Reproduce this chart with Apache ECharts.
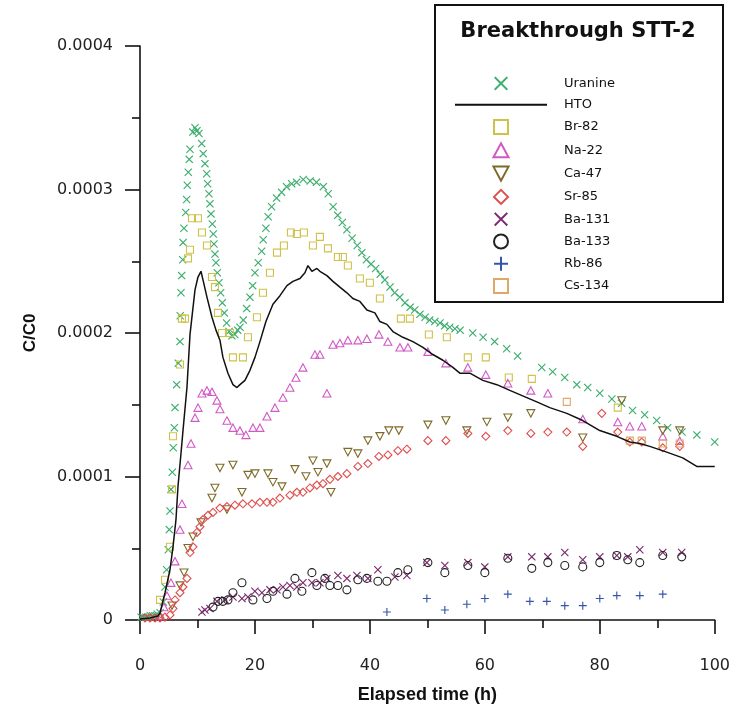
<!DOCTYPE html>
<html>
<head>
<meta charset="utf-8">
<script src="https://cdn.jsdelivr.net/npm/echarts@6/dist/echarts.min.js"></script>
<style>
  html, body { margin: 0; padding: 0; background: #fff; }
  #chart { width: 733px; height: 710px; }
</style>
</head>
<body>
<div id="chart"></div>
<script>
// Breakthrough curves, test STT-2: C/C0 against elapsed time (h)
const xTicks = [0, 20, 40, 60, 80, 100];
const yTicks = [0, 0.0001, 0.0002, 0.0003, 0.0004];
const seriesNames = ['Uranine', 'HTO', 'Br-82', 'Na-22', 'Ca-47', 'Sr-85', 'Ba-131', 'Ba-133', 'Rb-86', 'Cs-134'];

const uranine = [
  [0.2,0.02e-4],[0.6,0.02e-4],[1.0,0.02e-4],[1.4,0.02e-4],[1.8,0.03e-4],[2.2,0.03e-4],[2.6,0.03e-4],[3.0,0.04e-4],
  [3.5,0.05e-4],[4.05,0.125e-4],[4.35,0.23e-4],[4.64,0.35e-4],[4.92,0.49e-4],[5.1,0.63e-4],[5.22,0.76e-4],[5.39,0.91e-4],
  [5.62,1.03e-4],[5.79,1.20e-4],[5.97,1.34e-4],[6.09,1.48e-4],[6.38,1.64e-4],[6.66,1.79e-4],[6.96,1.94e-4],[7.0,2.12e-4],
  [7.13,2.28e-4],[7.25,2.40e-4],[7.43,2.51e-4],[7.5,2.63e-4],[7.65,2.73e-4],[7.95,2.84e-4],[8.12,2.93e-4],[8.23,3.03e-4],
  [8.4,3.12e-4],[8.57,3.21e-4],[8.7,3.28e-4],[9.2,3.40e-4],[9.57,3.43e-4],[9.91,3.41e-4],[10.26,3.39e-4],[10.73,3.32e-4],
  [11.0,3.25e-4],[11.3,3.18e-4],[11.6,3.11e-4],[11.77,3.04e-4],[12.0,2.97e-4],[12.17,2.90e-4],[12.35,2.83e-4],[12.58,2.76e-4],
  [12.75,2.69e-4],[12.87,2.62e-4],[13.04,2.55e-4],[13.22,2.49e-4],[13.45,2.42e-4],[13.74,2.35e-4],[14.03,2.28e-4],[14.32,2.21e-4],
  [14.67,2.14e-4],[15.07,2.07e-4],[15.5,2.01e-4],[16.0,1.98e-4],[16.5,1.99e-4],[17.0,2.02e-4],[17.4,2.04e-4],[17.97,2.09e-4],
  [18.56,2.17e-4],[19.13,2.25e-4],[19.6,2.33e-4],[20.0,2.42e-4],[20.57,2.49e-4],[21.17,2.57e-4],[21.44,2.65e-4],[21.9,2.73e-4],
  [22.3,2.81e-4],[22.9,2.88e-4],[23.77,2.94e-4],[24.64,2.98e-4],[25.5,3.02e-4],[26.4,3.04e-4],[27.25,3.05e-4],[28.4,3.07e-4],
  [29.6,3.06e-4],[30.7,3.05e-4],[31.9,3.02e-4],[32.75,2.97e-4],[33.6,2.88e-4],[34.4,2.82e-4],[35.2,2.77e-4],[36.0,2.72e-4],
  [36.9,2.66e-4],[37.8,2.61e-4],[38.6,2.56e-4],[39.4,2.51e-4],[40.2,2.48e-4],[41.0,2.45e-4],[41.8,2.41e-4],[42.6,2.37e-4],
  [43.5,2.32e-4],[44.3,2.28e-4],[45.2,2.25e-4],[46.1,2.21e-4],[47.0,2.18e-4],[47.8,2.16e-4],[48.7,2.13e-4],[49.6,2.11e-4],
  [50.4,2.09e-4],[51.3,2.08e-4],[52.2,2.07e-4],[53.0,2.05e-4],[53.9,2.04e-4],[54.8,2.03e-4],[55.7,2.02e-4],
  [57.9,2.00e-4],[59.7,1.97e-4],[61.7,1.94e-4],[63.8,1.89e-4],[65.7,1.84e-4],[69.9,1.76e-4],[71.8,1.73e-4],[73.9,1.69e-4],
  [76.0,1.64e-4],[77.9,1.62e-4],[80.0,1.58e-4],[82.1,1.54e-4],[83.8,1.51e-4],[85.7,1.46e-4],[87.8,1.43e-4],[89.9,1.39e-4],
  [91.8,1.34e-4],[94.3,1.31e-4],[96.9,1.29e-4],[100,1.24e-4]
];

const hto = [
  [0,0.007e-4],[1.74,0.014e-4],[3.13,0.028e-4],[3.48,0.049e-4],[4.35,0.19e-4],[5.22,0.35e-4],[5.74,0.51e-4],[6.26,0.70e-4],
  [6.61,0.93e-4],[7.13,1.16e-4],[7.48,1.32e-4],[8.17,1.62e-4],[8.7,1.99e-4],[9.57,2.30e-4],[10.09,2.39e-4],[10.61,2.43e-4],
  [10.96,2.37e-4],[11.65,2.25e-4],[12.52,2.11e-4],[13.22,2.02e-4],[13.91,1.95e-4],[14.43,1.83e-4],[15.3,1.72e-4],[16.17,1.64e-4],
  [16.87,1.62e-4],[17.39,1.64e-4],[18.26,1.67e-4],[19.13,1.74e-4],[20.0,1.83e-4],[20.87,1.94e-4],[21.91,2.08e-4],[23.13,2.20e-4],
  [24.35,2.26e-4],[25.57,2.33e-4],[26.61,2.36e-4],[27.83,2.38e-4],[28.7,2.42e-4],[29.22,2.47e-4],[29.91,2.43e-4],[30.78,2.45e-4],
  [31.3,2.43e-4],[32.52,2.40e-4],[33.57,2.36e-4],[34.78,2.32e-4],[36.0,2.28e-4],[37.04,2.24e-4],[38.26,2.22e-4],[39.48,2.16e-4],
  [40.87,2.14e-4],[41.74,2.08e-4],[42.96,2.06e-4],[44.0,2.01e-4],[45.74,1.97e-4],[47.48,1.94e-4],[49.22,1.90e-4],[50.96,1.85e-4],
  [52.7,1.81e-4],[54.43,1.76e-4],[55.65,1.72e-4],[57.39,1.72e-4],[59.65,1.67e-4],[62.09,1.64e-4],[64.35,1.60e-4],[67.3,1.55e-4],
  [69.04,1.52e-4],[71.3,1.48e-4],[74.26,1.44e-4],[77.04,1.39e-4],[80.0,1.32e-4],[82.96,1.28e-4],[85.22,1.24e-4],[86.96,1.23e-4],
  [88.7,1.21e-4],[91.65,1.17e-4],[94.43,1.13e-4],[96.87,1.07e-4],[100,1.07e-4]
];

const br82 = [
  [3.48,0.14e-4],[4.35,0.28e-4],[5.22,0.51e-4],[5.57,0.91e-4],[5.74,1.28e-4],[6.96,1.78e-4],[7.3,2.10e-4],[7.83,2.10e-4],
  [8.35,2.52e-4],[8.7,2.58e-4],[9.04,2.80e-4],[10.09,2.80e-4],[10.78,2.70e-4],[11.65,2.61e-4],[12.52,2.39e-4],[13.04,2.32e-4],
  [13.57,2.14e-4],[14.26,2.00e-4],[15.65,2.00e-4],[16.17,1.83e-4],[17.91,1.83e-4],[18.78,1.97e-4],[20.35,2.11e-4],[21.39,2.28e-4],
  [22.61,2.42e-4],[23.83,2.56e-4],[25.04,2.61e-4],[26.26,2.70e-4],[27.3,2.69e-4],[28.52,2.70e-4],[30.09,2.61e-4],[31.3,2.67e-4],
  [32.7,2.59e-4],[34.43,2.53e-4],[35.3,2.53e-4],[36.17,2.47e-4],[38.26,2.38e-4],[40.0,2.35e-4],[41.74,2.24e-4],[45.39,2.10e-4],
  [46.96,2.10e-4],[50.26,1.99e-4],[53.39,1.97e-4],[57.04,1.83e-4],[60.17,1.83e-4],[64.17,1.69e-4],[68.17,1.68e-4],[83.13,1.48e-4]
];

const na22 = [
  [3.48,0.03e-4],[4.17,0.09e-4],[4.7,0.17e-4],[5.39,0.26e-4],[6.09,0.41e-4],[6.96,0.63e-4],[7.3,0.81e-4],[8.35,1.08e-4],
  [8.87,1.23e-4],[9.57,1.41e-4],[10.09,1.48e-4],[10.78,1.58e-4],[11.65,1.60e-4],[12.52,1.59e-4],[13.39,1.53e-4],[13.91,1.47e-4],
  [15.13,1.39e-4],[16.17,1.34e-4],[17.39,1.32e-4],[18.43,1.29e-4],[19.65,1.34e-4],[20.87,1.34e-4],[22.09,1.42e-4],[23.48,1.48e-4],
  [24.87,1.55e-4],[26.09,1.62e-4],[27.13,1.69e-4],[28.35,1.76e-4],[30.43,1.85e-4],[31.3,1.85e-4],[32.52,1.58e-4],[33.57,1.92e-4],
  [34.78,1.93e-4],[36.17,1.95e-4],[37.91,1.95e-4],[39.48,1.96e-4],[41.57,1.99e-4],[43.13,1.94e-4],[45.22,1.90e-4],[46.61,1.90e-4],
  [50.09,1.87e-4],[53.22,1.79e-4],[57.04,1.76e-4],[60.17,1.71e-4],[64.0,1.65e-4],[68.0,1.60e-4],[70.96,1.58e-4],[77.04,1.40e-4],
  [83.13,1.38e-4],[85.22,1.35e-4],[87.3,1.35e-4],[90.96,1.28e-4],[93.91,1.25e-4]
];

const ca47 = [
  [5.57,0.10e-4],[6.96,0.24e-4],[7.65,0.33e-4],[8.35,0.50e-4],[9.22,0.58e-4],[10.61,0.68e-4],[12.52,0.85e-4],[13.04,0.92e-4],
  [13.91,1.06e-4],[15.13,0.77e-4],[16.17,1.08e-4],[17.74,0.89e-4],[18.78,1.01e-4],[20.0,1.02e-4],[22.26,1.02e-4],[23.13,0.96e-4],
  [24.7,0.93e-4],[26.96,1.05e-4],[28.87,1.00e-4],[30.09,1.11e-4],[30.96,1.03e-4],[32.52,1.09e-4],[33.22,0.89e-4],[36.17,1.17e-4],
  [37.91,1.16e-4],[39.65,1.25e-4],[41.74,1.28e-4],[43.3,1.32e-4],[45.04,1.32e-4],[50.09,1.36e-4],[53.22,1.39e-4],[56.87,1.32e-4],
  [60.35,1.38e-4],[64.0,1.41e-4],[68.0,1.44e-4],[77.04,1.27e-4],[83.83,1.53e-4],[90.96,1.32e-4],[93.91,1.32e-4]
];

const sr85 = [
  [0.87,0.014e-4],[1.74,0.014e-4],[2.61,0.014e-4],[3.48,0.014e-4],[4.35,0.02e-4],[5.22,0.035e-4],[5.74,0.08e-4],[6.09,0.14e-4],
  [6.96,0.19e-4],[7.48,0.23e-4],[8.17,0.29e-4],[8.7,0.47e-4],[9.22,0.51e-4],[9.91,0.61e-4],[10.43,0.65e-4],[10.96,0.70e-4],
  [11.83,0.73e-4],[12.7,0.75e-4],[13.91,0.78e-4],[15.13,0.79e-4],[16.52,0.80e-4],[17.91,0.81e-4],[19.48,0.81e-4],[20.87,0.82e-4],
  [22.09,0.82e-4],[23.13,0.82e-4],[24.35,0.85e-4],[26.09,0.87e-4],[27.3,0.89e-4],[28.35,0.89e-4],[29.57,0.92e-4],[30.78,0.94e-4],
  [31.83,0.95e-4],[33.04,0.98e-4],[34.43,1.00e-4],[36.0,1.02e-4],[37.91,1.07e-4],[39.65,1.09e-4],[41.57,1.14e-4],[43.13,1.15e-4],
  [44.87,1.18e-4],[46.43,1.19e-4],[50.09,1.25e-4],[53.22,1.25e-4],[57.04,1.30e-4],[60.17,1.28e-4],[64.0,1.32e-4],[68.0,1.30e-4],
  [70.96,1.31e-4],[74.26,1.31e-4],[77.04,1.21e-4],[80.35,1.44e-4],[83.13,1.31e-4],[85.22,1.24e-4],[87.3,1.24e-4],[90.96,1.20e-4],
  [93.91,1.21e-4]
];

const ba131 = [
  [10.78,0.056e-4],[11.3,0.07e-4],[12.17,0.08e-4],[13.39,0.13e-4],[14.78,0.14e-4],[16.17,0.16e-4],[17.74,0.15e-4],[18.78,0.16e-4],
  [20.0,0.20e-4],[21.22,0.19e-4],[22.61,0.21e-4],[23.83,0.21e-4],[24.87,0.23e-4],[26.09,0.24e-4],[27.3,0.23e-4],[28.35,0.26e-4],
  [29.91,0.26e-4],[31.3,0.26e-4],[32.52,0.29e-4],[34.43,0.31e-4],[36.0,0.29e-4],[37.74,0.31e-4],[39.65,0.29e-4],[41.39,0.35e-4],
  [44.35,0.30e-4],[46.43,0.31e-4],[49.91,0.40e-4],[53.04,0.38e-4],[57.04,0.40e-4],[60.0,0.37e-4],[64.0,0.44e-4],[68.17,0.44e-4],
  [70.96,0.44e-4],[73.91,0.47e-4],[77.04,0.42e-4],[80.0,0.44e-4],[82.96,0.45e-4],[84.87,0.44e-4],[86.96,0.49e-4],[90.96,0.47e-4],
  [94.26,0.47e-4]
];

const ba133 = [
  [12.7,0.09e-4],[13.57,0.13e-4],[14.43,0.13e-4],[15.3,0.14e-4],[16.17,0.19e-4],[17.74,0.26e-4],[19.65,0.14e-4],[22.09,0.15e-4],
  [23.13,0.20e-4],[25.57,0.18e-4],[26.96,0.29e-4],[28.17,0.20e-4],[29.91,0.33e-4],[30.78,0.24e-4],[32.17,0.29e-4],[33.04,0.24e-4],
  [34.43,0.24e-4],[36.0,0.21e-4],[37.91,0.28e-4],[39.48,0.29e-4],[41.39,0.27e-4],[42.96,0.27e-4],[44.87,0.33e-4],[46.61,0.35e-4],
  [50.09,0.40e-4],[53.04,0.33e-4],[57.04,0.38e-4],[60.0,0.33e-4],[64.0,0.43e-4],[68.17,0.36e-4],[70.96,0.40e-4],[73.91,0.38e-4],
  [77.04,0.37e-4],[80.0,0.40e-4],[82.96,0.45e-4],[84.87,0.42e-4],[86.96,0.40e-4],[90.96,0.45e-4],[94.26,0.44e-4]
];

const rb86 = [
  [42.96,0.056e-4],[49.91,0.15e-4],[53.04,0.07e-4],[56.87,0.11e-4],[60.0,0.15e-4],[64.0,0.18e-4],[67.83,0.13e-4],[70.78,0.13e-4],
  [73.91,0.10e-4],[77.04,0.10e-4],[80.0,0.15e-4],[82.96,0.17e-4],[86.96,0.17e-4],[90.96,0.18e-4]
];

const cs134 = [
  [74.26,1.52e-4],[85.22,1.25e-4],[87.3,1.25e-4],[90.96,1.23e-4],[93.91,1.23e-4]
];

// Marker outlines, all on a 14-unit box so legend icons keep their proportions
const CROSS_X = 'path://M1.4,0L7,5.6L12.6,0L14,1.4L8.4,7L14,12.6L12.6,14L7,8.4L1.4,14L0,12.6L5.6,7L0,1.4Z';
const CROSS_PLUS = 'path://M6,0H8V6H14V8H8V14H6V8H0V6H6Z';
const SQUARE = 'path://M0,0H14V14H0Z';
const TRI_UP = 'path://M7,0L14,13H0Z';
const TRI_DOWN = 'path://M0,0H14L7,13Z';
const DIAMOND = 'path://M7,0L14,7L7,14L0,7Z';
const RING = 'path://M0,7A7,7 0 1,0 14,7A7,7 0 1,0 0,7Z';

const FONT = "'DejaVu Sans', 'Liberation Sans', Arial, sans-serif";
const FONT_TITLE = "'Liberation Sans', Arial, Helvetica, sans-serif";

function filledMarker(name, data, symbol, color, size) {
  return {
    name, type: 'scatter', data, symbol, symbolSize: size, symbolKeepAspect: true,
    itemStyle: { color: color, opacity: 1 },
    emphasis: { disabled: true }
  };
}
function hollowMarker(name, data, symbol, color, size) {
  return {
    name, type: 'scatter', data, symbol, symbolSize: size, symbolKeepAspect: true,
    itemStyle: { color: 'rgba(255,255,255,0)', borderColor: color, borderWidth: 1.1, opacity: 1 },
    emphasis: { disabled: true }
  };
}

const legendData = seriesNames.map(name => (
  name === 'HTO'
    ? { name, itemStyle: { color: 'rgba(0,0,0,0)', borderWidth: 0, opacity: 0 } }
    : { name }
));

const chart = echarts.init(document.getElementById('chart'), null, { renderer: 'canvas' });

chart.setOption({
  animation: false,
  backgroundColor: '#fff',
  textStyle: { fontFamily: FONT },
  grid: { left: 140, right: 18, top: 46, bottom: 90, containLabel: false },
  xAxis: {
    type: 'value', min: xTicks[0], max: xTicks[xTicks.length - 1], interval: 20,
    name: 'Elapsed time (h)', nameLocation: 'middle', nameGap: 66,
    nameTextStyle: { fontSize: 18, fontWeight: 'bold', color: '#111', fontFamily: FONT_TITLE },
    axisLine: { onZero: false, lineStyle: { color: '#111', width: 1.6 } },
    axisTick: { length: 14, lineStyle: { color: '#111', width: 1.6 } },
    minorTick: { show: true, splitNumber: 2, length: 8, lineStyle: { color: '#111', width: 1.6 } },
    splitLine: { show: false },
    axisLabel: { margin: 38, fontSize: 16, color: '#222', fontFamily: FONT }
  },
  yAxis: {
    type: 'value', min: yTicks[0], max: yTicks[yTicks.length - 1], interval: 0.0001,
    name: 'C/C0', nameLocation: 'middle', nameGap: 101, nameRotate: 90,
    nameTextStyle: { fontSize: 17, fontWeight: 'bold', color: '#111', fontFamily: FONT_TITLE },
    axisLine: { show: true, onZero: false, lineStyle: { color: '#111', width: 1.6 } },
    axisTick: { show: true, length: 15, lineStyle: { color: '#111', width: 1.6 } },
    minorTick: { show: true, splitNumber: 2, length: 8, lineStyle: { color: '#111', width: 1.6 } },
    splitLine: { show: false },
    axisLabel: {
      margin: 27, fontSize: 16, color: '#222', fontFamily: FONT,
      formatter: v => (v === 0 ? '0' : v.toFixed(4))
    }
  },
  legend: {
    data: legendData,
    orient: 'vertical',
    left: 454, top: 76.4,
    padding: 0,
    itemWidth: 92, itemHeight: 14, itemGap: 7.3,
    symbolKeepAspect: true,
    selectedMode: false,
    textStyle: { fontSize: 13, color: '#111', fontFamily: FONT, lineHeight: 14, padding: [0, 0, 0, 12] }
  },
  graphic: [
    {
      type: 'rect', silent: true, z: 10,
      shape: { x: 435, y: 5, width: 288, height: 297 },
      style: { fill: 'none', stroke: '#111', lineWidth: 2 }
    },
    {
      type: 'text', silent: true, z: 10, x: 578, y: 32,
      style: {
        text: 'Breakthrough STT-2', align: 'center', verticalAlign: 'middle',
        font: "bold 21px 'DejaVu Sans', 'Liberation Sans', Arial, sans-serif", fill: '#111'
      }
    }
  ],
  series: [
    filledMarker('Uranine', uranine, CROSS_X, '#3cae6e', 8),
    {
      name: 'HTO', type: 'line', data: hto, symbol: 'none', smooth: false,
      lineStyle: { color: '#111', width: 1.5 }, itemStyle: { color: '#111' },
      emphasis: { disabled: true }, z: 3
    },
    hollowMarker('Br-82', br82, SQUARE, '#cfc24a', 7),
    hollowMarker('Na-22', na22, TRI_UP, '#d258c6', 8),
    hollowMarker('Ca-47', ca47, TRI_DOWN, '#7d6a28', 8),
    hollowMarker('Sr-85', sr85, DIAMOND, '#e04c4c', 8),
    filledMarker('Ba-131', ba131, CROSS_X, '#7a2a6e', 8),
    hollowMarker('Ba-133', ba133, RING, '#222', 8),
    filledMarker('Rb-86', rb86, CROSS_PLUS, '#3556a8', 8),
    hollowMarker('Cs-134', cs134, SQUARE, '#e0a868', 7)
  ]
});
</script>
</body>
</html>
